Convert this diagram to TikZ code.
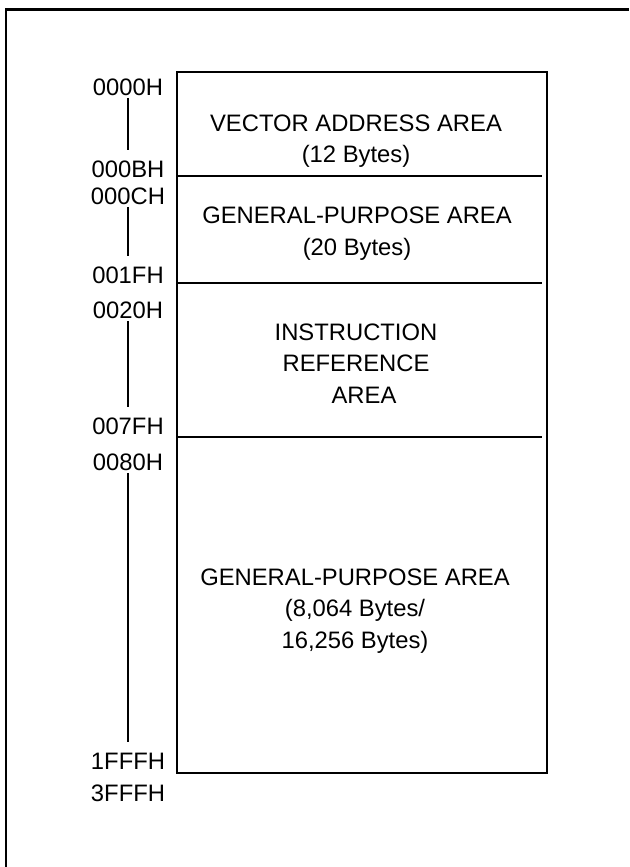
\documentclass[tikz,border=0pt]{standalone}
\usepackage{fontspec}
\setmainfont{Liberation Sans}
\usetikzlibrary{positioning}

\tikzset{
  addr/.style={inner sep=0pt, font=\fontsize{11.9}{15.8}\selectfont},
  area/.style={inner sep=0pt, align=center, font=\fontsize{11.9}{15.8}\selectfont},
  addrline/.style={line width=0.95pt, shorten <=1pt, shorten >=5pt},
  memline/.style={line width=1pt},
}

\begin{document}
\begin{tikzpicture}[x=0.5pt, y=-0.5pt]
  \useasboundingbox (0,0) rectangle (629,867);
  \draw[line width=1.1pt] (6,867) -- (6,9.5) -- (629,9.5);

  % memory map
  \draw[memline] (177,72) rectangle (547,773);
  \draw[memline] (177,176) -- (542,176);
  \draw[memline] (177,283) -- (542,283);
  \draw[memline] (177,437) -- (542,437);

  \node[area] (vec) at (356,141) {VECTOR ADDRESS AREA\\(12 Bytes)};
  \node[area] (gpa) at (357,233.5) {GENERAL-PURPOSE AREA\\(20 Bytes)};
  \node[area] (ins) at (356,363.5) {INSTRUCTION\\REFERENCE\\\hspace*{8pt}AREA};
  \node[area] (gpb) at (355,611) {GENERAL-PURPOSE AREA\\(8,064 Bytes/\\16,256 Bytes)};

  % addresses
  \node[addr] (a0000) at (128,87) {0000H};
  \node[addr] (a000B) at (128,169) {000BH};
  \node[addr] (a000C) at (128,196) {000CH};
  \node[addr] (a001F) at (128,275) {001FH};
  \node[addr] (a0020) at (128,310) {0020H};
  \node[addr] (a007F) at (128,426) {007FH};
  \node[addr] (a0080) at (128,462) {0080H};
  \node[addr] (a1FFF) at (128,761) {1FFFH};
  \node[addr] (a3FFF) at (128,793) {3FFFH};

  \draw[addrline] (a0000) -- (a000B);
  \draw[addrline] (a000C) -- (a001F);
  \draw[addrline] (a0020) -- (a007F);
  \draw[addrline] (a0080) -- (a1FFF);
\end{tikzpicture}
\end{document}
